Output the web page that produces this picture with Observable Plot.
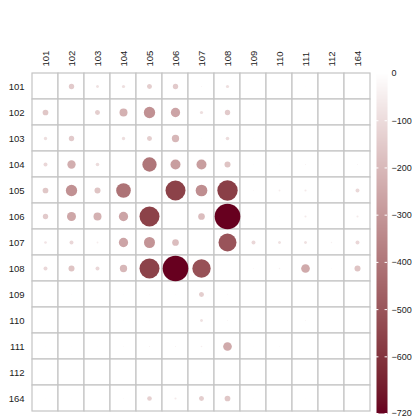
<!DOCTYPE html>
<html>
<head>
<meta charset="utf-8">
<script src="https://cdn.jsdelivr.net/npm/d3@7"></script>
<script src="https://cdn.jsdelivr.net/npm/@observablehq/plot@0.6"></script>
<style>
  html, body { margin: 0; padding: 0; background: #ffffff; }
  #wrap { display: flex; flex-direction: row; width: 412px; height: 417px; }
</style>
</head>
<body>
<div id="wrap"></div>
<script>
// Category labels (rows top→bottom, columns left→right)
const labels = ["101","102","103","104","105","106","107","108","109","110","111","112","164"];

// Values per row (null = diagonal / empty)
const r101 = [null, -150, -84, -90, -140, -150, -30, -90, 0, 0, -15, 0, -10];
const r102 = [-160, null, -140, -224, -317, -260, -90, -150, -15, -10, -15, -10, -15];
const r103 = [-93, -150, null, -93, -140, -205, -20, -100, -15, -10, -10, 0, -10];
const r104 = [-112, -233, -100, null, -400, -280, -280, -168, -20, -20, -35, -15, -30];
const r105 = [-160, -317, -168, -410, null, -560, -327, -570, -28, -50, -60, -20, -110];
const r106 = [-150, -252, -224, -260, -560, null, -187, -720, -15, -20, -60, 0, -60];
const r107 = [-75, -112, -50, -260, -308, -187, null, -504, -112, -84, -84, -40, -112];
const r108 = [-112, -168, -112, -205, -560, -720, -513, null, -28, -40, -243, -25, -168];
const r109 = [0, -20, -15, -20, -25, -20, -140, -25, null, -15, 0, 0, 0];
const r110 = [0, 0, -15, -20, -25, -15, -84, -30, -20, null, -30, 0, 0];
const r111 = [-15, -15, -15, -25, -35, -35, -45, -243, -15, -25, null, 0, 0];
const r112 = [0, 0, 0, -10, -10, 0, -20, -15, 0, 0, 0, null, 0];
const r164 = [-15, -15, -10, -25, -130, -60, -140, -160, -15, -15, -15, 0, null];

// Legend ticks
const legendTicks = [0, -100, -200, -300, -400, -500, -600, -720];
const colorDomain = [-720, 0];

const matrix = [r101, r102, r103, r104, r105, r106, r107, r108, r109, r110, r111, r112, r164];
const cells = matrix.flatMap((row, i) => row.map((v, j) => ({row: labels[i], col: labels[j], v})));
const dots = cells.filter(d => d.v != null && d.v !== 0);

const font = "'Liberation Sans', Arial, Helvetica, sans-serif";
const colorOpts = {type: "linear", domain: colorDomain, range: ["#67001F", "#FFFFFF"], interpolate: "lab"};
const fmt = d3.format("d");

const main = Plot.plot({
  width: 372,
  height: 417,
  marginLeft: 30,
  marginRight: 0.5,
  marginTop: 71,
  marginBottom: 4,
  style: {fontFamily: font, fontSize: "9.5px", color: "#222222", background: "#ffffff"},
  x: {domain: labels, padding: 0, axis: "top", tickRotate: -90, tickSize: 0, tickPadding: 5, label: null},
  y: {domain: labels, padding: 0, tickSize: 0, tickPadding: 6, label: null},
  r: {type: "linear", domain: [0, 720], range: [0, 12.85]},
  color: colorOpts,
  marks: [
    Plot.cell(cells, {x: "col", y: "row", fill: "#ffffff", stroke: "#c4c4c4", strokeWidth: 1.2}),
    Plot.dot(dots, {x: "col", y: "row", r: d => Math.abs(d.v), fill: "v", stroke: null})
  ]
});

const legend = Plot.plot({
  width: 40,
  height: 417,
  marginLeft: 4,
  marginRight: 25,
  marginTop: 73,
  marginBottom: 4,
  style: {fontFamily: font, fontSize: "9px", color: "#222222", background: "#ffffff"},
  x: {domain: [0, 1], axis: null},
  y: {domain: colorDomain, axis: null},
  color: colorOpts,
  marks: [
    Plot.raster({x1: 0, x2: 1, y1: -720, y2: 0, fill: (x, y) => y, pixelSize: 1}),
    Plot.ruleY(legendTicks, {y: d => d, x1: 0, x2: 0.22, stroke: "#ffffff", strokeWidth: 1}),
    Plot.ruleY(legendTicks, {y: d => d, x1: 0.78, x2: 1, stroke: "#ffffff", strokeWidth: 1}),
    Plot.text(legendTicks, {y: d => d, x: 1, dx: 4, text: d => fmt(d), textAnchor: "start", fill: "#222222"})
  ]
});

const wrap = document.getElementById("wrap");
wrap.appendChild(main);
wrap.appendChild(legend);
</script>
</body>
</html>
